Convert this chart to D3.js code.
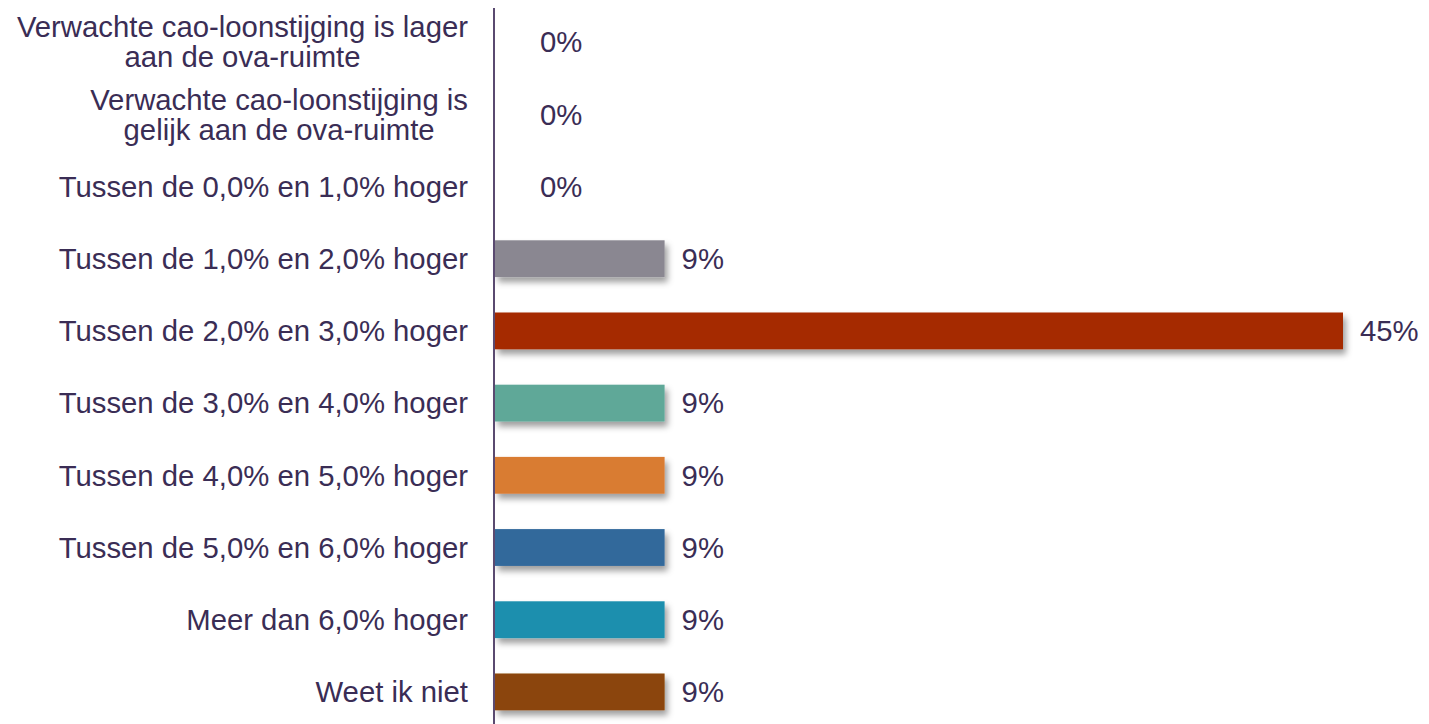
<!DOCTYPE html>
<html><head><meta charset="utf-8">
<script src="https://cdn.jsdelivr.net/npm/d3@7"></script>
<style>
html,body{margin:0;padding:0;background:#fff;}
svg{display:block;font-family:"Liberation Sans",Arial,sans-serif;}
</style></head>
<body>
<svg id="chart" width="1429" height="724"></svg>
<script>
const categories = [
  ["Verwachte cao-loonstijging is lager", "aan de ova-ruimte"],
  ["Verwachte cao-loonstijging is", "gelijk aan de ova-ruimte"],
  ["Tussen de 0,0% en 1,0% hoger"],
  ["Tussen de 1,0% en 2,0% hoger"],
  ["Tussen de 2,0% en 3,0% hoger"],
  ["Tussen de 3,0% en 4,0% hoger"],
  ["Tussen de 4,0% en 5,0% hoger"],
  ["Tussen de 5,0% en 6,0% hoger"],
  ["Meer dan 6,0% hoger"],
  ["Weet ik niet"]
];
const values = [0, 0, 0, 9, 45, 9, 9, 9, 9, 9];
const valueLabels = ["0%","0%","0%","9%","45%","9%","9%","9%","9%","9%"];
const colors = ["#8a8791","#8a8791","#8a8791","#8a8791","#a52a00","#5fa898","#d97b31","#31699b","#1f8fae","#8b4509"];

const svg = d3.select("#chart");
const textColor = "#3a2d55";
const fontSize = 29.3;
const x = d3.scaleLinear().domain([0, 45]).range([495, 1343]);
const y = d3.scaleBand().domain(d3.range(categories.length)).range([6, 728]).paddingInner(0.49).paddingOuter(0.245);

const defs = svg.append("defs");
const f = defs.append("filter").attr("id","shadow").attr("x","-10%").attr("y","-30%").attr("width","130%").attr("height","190%");
f.append("feDropShadow").attr("dx",3).attr("dy",5).attr("stdDeviation",3).attr("flood-color","#000").attr("flood-opacity",0.38);

const rows = svg.append("g");
values.forEach((v,i) => {
  if (v > 0) {
    rows.append("rect")
      .attr("x", x(0)).attr("y", y(i))
      .attr("width", x(v) - x(0)).attr("height", y.bandwidth())
      .attr("fill", colors[i]).attr("filter","url(#shadow)");
  }
});

// value labels
svg.append("g").selectAll("text").data(values).join("text")
  .attr("x", d => d > 0 ? x(d) + 17 : x(0) + 45)
  .attr("y", (d,i) => y(i) + y.bandwidth()/2)
  .attr("dy","0.35em")
  .attr("font-size", fontSize)
  .attr("fill", textColor)
  .text((d,i) => valueLabels[i]);

// category labels (multi-line blocks: lines centered within a right-aligned block)
const cat = svg.append("g");
const rightEdge = 468;
categories.forEach((lines,i) => {
  const cy = y(i) + y.bandwidth()/2;
  const lh = 30;
  const t = cat.append("text")
    .attr("font-size", fontSize)
    .attr("fill", textColor);
  const spans = lines.map((ln, k) => t.append("tspan")
      .attr("y", cy + (k - (lines.length-1)/2) * lh)
      .attr("dy","0.35em")
      .text(ln));
  const widths = spans.map(s => s.node().getComputedTextLength());
  const maxW = d3.max(widths);
  const center = rightEdge - maxW/2;
  spans.forEach((s,k) => s.attr("x", center).attr("text-anchor","middle"));
});

// axis line
svg.append("line")
  .attr("x1", x(0) - 1).attr("x2", x(0) - 1)
  .attr("y1", 8).attr("y2", 724)
  .attr("stroke", "#5a4a70").attr("stroke-width", 2);
</script>
</body></html>
